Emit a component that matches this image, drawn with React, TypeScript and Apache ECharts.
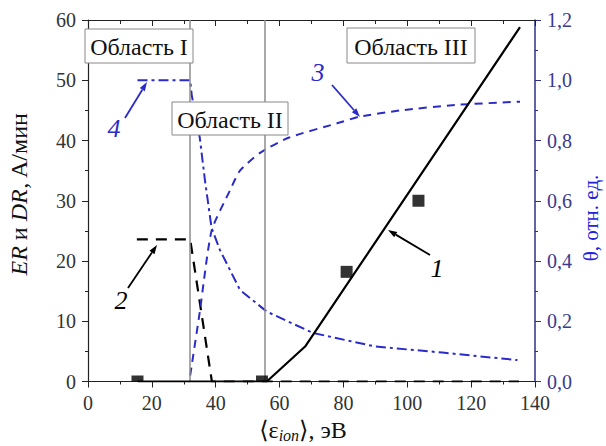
import React, { useEffect, useRef } from "react";
import * as echarts from "echarts";

// ---- data ----
const xRange = [0, 140];
const leftRange = [0, 60];
const rightRange = [0, 1.2];
// curve 1: ER (solid black)
const curve1: number[][] = [[15.5, 0], [56, 0], [68, 5.8], [135.3, 58.8]];
// experimental squares
const squares: number[][] = [[15.5, 0], [54.5, 0], [81, 18.2], [103.5, 30]];
// curve 2: DR (black dashed)
const curve2: number[][] = [[15.3, 23.6], [32, 23.6], [38.8, 0], [135, 0]];
// curve 3: theta (blue dashed)
const curve3: number[][] = [
  [32, 0.02], [35, 0.23], [38.7, 0.5], [44.5, 0.635], [47.6, 0.7], [54, 0.76],
  [63, 0.81], [78, 0.857], [85, 0.879], [98, 0.9], [115, 0.918], [135.3, 0.929],
];
// curve 4: theta (blue dash-dot)
const curve4: number[][] = [
  [15.5, 1.0], [32, 1.0], [32.5, 0.95], [35, 0.81], [36.6, 0.67], [38.7, 0.51],
  [41.3, 0.437], [47.6, 0.304], [56, 0.232], [70.5, 0.161], [90, 0.116],
  [111, 0.096], [134.5, 0.071],
];
const regionBounds = [32, 55.5];
const regionLabels = ["Область I", "Область II", "Область III"];
const curveLabels = ["1", "2", "3", "4"];

const SERIF = "'Liberation Serif', 'Times New Roman', 'DejaVu Serif', serif";
const BLUE = "#2b2bc8";
const NAVY = "#2e2e8c";
const GRAY_TEXT = "#333";

function arrow(x1: number, y1: number, x2: number, y2: number, color: string) {
  const dx = x2 - x1, dy = y2 - y1;
  const len = Math.hypot(dx, dy);
  const ux = dx / len, uy = dy / len;
  const nx = -uy, ny = ux;
  const L = 9, W = 6;
  const bx = x2 - ux * L, by = y2 - uy * L;
  return [
    { type: "line", z: 100, shape: { x1, y1, x2: bx, y2: by }, style: { stroke: color, lineWidth: 1.8 } },
    {
      type: "polygon", z: 100,
      shape: { points: [[x2, y2], [bx + nx * W / 2, by + ny * W / 2], [bx - nx * W / 2, by - ny * W / 2]] },
      style: { fill: color },
    },
  ];
}

function boxLabel(text: string, x: number, y: number, w: number, h: number) {
  return [
    { type: "rect", z: 90, shape: { x, y, width: w, height: h }, style: { fill: "#fff", stroke: "#888", lineWidth: 1 } },
    {
      type: "text", z: 91, x: x + w / 2, y: y + h / 2 + 1,
      style: { text, fontFamily: SERIF, fontSize: 24, fill: "#111", align: "center", verticalAlign: "middle", textAlign: "center", textVerticalAlign: "middle" },
    },
  ];
}

function label(text: string, x: number, y: number, color: string) {
  return {
    type: "text", z: 100, x, y,
    style: { text, fontFamily: SERIF, fontSize: 26, fontStyle: "italic", fill: color, align: "center", verticalAlign: "middle", textAlign: "center", textVerticalAlign: "middle" },
  };
}

export default function App() {
  const ref = useRef<HTMLDivElement>(null);
  useEffect(() => {
    document.body.style.margin = "0";
    const chart = echarts.init(ref.current!, null, { renderer: "svg" });
    const axisLabelBase = { fontFamily: SERIF, fontSize: 20, color: GRAY_TEXT };
    const option: any = {
      animation: false,
      backgroundColor: "#fff",
      grid: { left: 88, right: 71, top: 20, bottom: 64.5, containLabel: false },
      xAxis: [
        {
          type: "value", min: xRange[0], max: xRange[1], interval: 20, position: "bottom",
          axisLine: { onZero: false, lineStyle: { color: "#222", width: 1.2 } },
          axisTick: { inside: false, length: 6, lineStyle: { color: "#222" } },
          minorTick: { show: true, splitNumber: 2, length: 3, lineStyle: { color: "#222" } },
          splitLine: { show: false },
          axisLabel: { ...axisLabelBase, margin: 11 },
        },
        {
          type: "value", min: xRange[0], max: xRange[1], interval: 20, position: "top",
          axisLine: { onZero: false, lineStyle: { color: "#222", width: 1.2 } },
          axisTick: { inside: true, length: 6, lineStyle: { color: "#222" } },
          minorTick: { show: true, splitNumber: 2, length: 4, lineStyle: { color: "#222" } },
          splitLine: { show: false },
          axisLabel: { show: false },
        },
      ],
      yAxis: [
        {
          type: "value", min: leftRange[0], max: leftRange[1], interval: 10, position: "left",
          axisLine: { show: true, onZero: false, lineStyle: { color: "#222", width: 1.2 } },
          axisTick: { show: true, inside: false, length: 6, lineStyle: { color: "#222" } },
          minorTick: { show: true, splitNumber: 2, length: 3, lineStyle: { color: "#222" } },
          splitLine: { show: false },
          axisLabel: { ...axisLabelBase, margin: 12 },
        },
        {
          type: "value", min: rightRange[0], max: rightRange[1], interval: 0.2, position: "right",
          axisLine: { show: true, onZero: false, lineStyle: { color: NAVY, width: 1.5 } },
          axisTick: { show: true, inside: false, length: 6, lineStyle: { color: NAVY } },
          minorTick: { show: true, splitNumber: 2, length: 3, lineStyle: { color: NAVY } },
          splitLine: { show: false },
          axisLabel: {
            ...axisLabelBase, color: "#3a3a8e", margin: 12,
            formatter: (v: number) => v.toFixed(1).replace(".", ","),
          },
        },
      ],
      series: [
        {
          type: "line", name: "1", data: curve1, xAxisIndex: 0, yAxisIndex: 0,
          showSymbol: false, symbol: "none",
          lineStyle: { color: "#000", width: 2.2 }, z: 5,
          markLine: {
            silent: true, symbol: ["none", "none"], label: { show: false },
            lineStyle: { color: "#8c8c8c", width: 1.5, type: "solid" },
            data: regionBounds.map((b) => ({ xAxis: b })),
          },
        },
        {
          type: "line", name: "2", data: curve2, xAxisIndex: 0, yAxisIndex: 0,
          showSymbol: false, symbol: "none",
          lineStyle: { color: "#000", width: 2.2, type: [11, 8] }, z: 4,
        },
        {
          type: "line", name: "3", data: curve3, xAxisIndex: 0, yAxisIndex: 1,
          showSymbol: false, symbol: "none", smooth: 0.2,
          lineStyle: { color: BLUE, width: 2, type: [8, 6] }, z: 4,
        },
        {
          type: "line", name: "4", data: curve4, xAxisIndex: 0, yAxisIndex: 1,
          showSymbol: false, symbol: "none",
          lineStyle: { color: BLUE, width: 2, type: [10, 4, 3, 4] }, z: 4,
        },
        {
          type: "scatter", name: "exp", xAxisIndex: 0, yAxisIndex: 0,
          data: squares.map((p) =>
            p[1] === 0
              ? { value: p, symbolSize: [12, 6], symbolOffset: [0, -3] }
              : { value: p, symbolSize: 12 }
          ),
          symbol: "rect", itemStyle: { color: "#000" }, z: 6,
        },
      ],
      graphic: [
        ...boxLabel(regionLabels[0], 85, 29, 108, 34),
        ...boxLabel(regionLabels[1], 172, 102, 116, 33),
        ...boxLabel(regionLabels[2], 347, 28, 128, 35),
        ...arrow(125, 118, 147, 82, BLUE),
        ...arrow(332, 85, 360, 117, BLUE),
        ...arrow(128, 288, 157, 245, "#000"),
        ...arrow(430, 255, 388, 230, "#000"),
        label(curveLabels[0], 437, 268, "#000"),
        label(curveLabels[1], 121, 300, "#000"),
        label(curveLabels[2], 318, 72, BLUE),
        label(curveLabels[3], 114, 128, BLUE),
        {
          type: "text", z: 100, x: 19, y: 194, rotation: Math.PI / 2,
          style: {
            text: "{i|ER} и {i|DR}, A/мин",
            rich: { i: { fontStyle: "italic", fontFamily: SERIF, fontSize: 24, fill: "#111" } },
            fontFamily: SERIF, fontSize: 24, fill: "#111",
            align: "center", verticalAlign: "middle", textAlign: "center", textVerticalAlign: "middle",
          },
        },
        {
          type: "text", z: 100, x: 591, y: 218, rotation: Math.PI / 2,
          style: {
            text: "θ, отн. ед.", fontFamily: SERIF, fontSize: 21, fill: "#2222dd",
            align: "center", verticalAlign: "middle", textAlign: "center", textVerticalAlign: "middle",
          },
        },
        {
          type: "text", z: 100, x: 303, y: 430,
          style: {
            text: "⟨ε{sub|ion}⟩, эВ",
            rich: { sub: { fontStyle: "italic", fontFamily: SERIF, fontSize: 16, fill: "#111", verticalAlign: "bottom", padding: [10, 0, 0, 0] } },
            fontFamily: SERIF, fontSize: 24, fill: "#111",
            align: "center", verticalAlign: "middle", textAlign: "center", textVerticalAlign: "middle",
          },
        },
      ],
    };
    chart.setOption(option);
    return () => chart.dispose();
  }, []);
  return <div ref={ref} style={{ width: 606, height: 446 }} />;
}
